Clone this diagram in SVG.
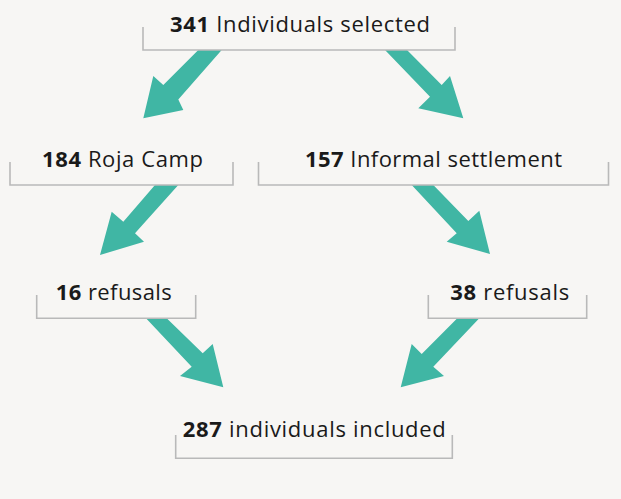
<svg xmlns="http://www.w3.org/2000/svg" width="621" height="499" viewBox="0 0 621 499">
<style>
.bg{fill:#f7f6f4}
.br{fill:none;stroke:#b9b9b9;stroke-width:1.6}
.lbl{font-family:"Open Sans","Liberation Sans",sans-serif;font-size:22px;fill:#1a1a1a;text-anchor:middle}
.b{font-weight:bold}
.ar{fill:#40b6a4}
</style>
<rect class="bg" x="0" y="0" width="621" height="499"/>
<g id="connectors">
<polygon class="ar" points="198.3,50 163.3,85 153.3,76 143.3,118.3 183.3,110 178.3,99.5 221.7,50"/>
<polygon class="ar" points="385,50 430,96.7 418.3,108.3 463.3,118.3 450,76 441.7,85 407,50"/>
<polygon class="ar" points="155,185 123.3,221.7 111.7,211.7 100,255 144,241.7 135,233.3 178.3,185"/>
<polygon class="ar" points="411.7,185 456.7,233.3 446.7,241.7 490,254 479.3,210.7 468.3,221 433.3,185"/>
<polygon class="ar" points="146,318.3 191.7,366.7 180,376 223.3,387.3 212.7,344 202.7,353.3 166.7,318.3"/>
<polygon class="ar" points="457.3,318.3 421.7,354 411.7,344 400.7,387.3 444,376 433.3,366.7 479.3,318.3"/>
</g>
<g id="n-selected">
<path class="br" d="M143,27 V50 H455 V27"/>
<text class="lbl" x="300" y="32" textLength="260"><tspan class="b">341</tspan> Individuals selected</text>
</g>
<g id="n-roja">
<path class="br" d="M10,162 V185 H233 V162"/>
<text class="lbl" x="122.5" y="167" textLength="161"><tspan class="b">184</tspan> Roja Camp</text>
</g>
<g id="n-informal">
<path class="br" d="M258.5,162 V185 H608.5 V162"/>
<text class="lbl" x="433.5" y="167" textLength="257"><tspan class="b">157</tspan> Informal settlement</text>
</g>
<g id="n-refusals-16">
<path class="br" d="M36.7,295 V318.3 H195.7 V295"/>
<text class="lbl" x="113.8" y="300" textLength="116"><tspan class="b">16</tspan> refusals</text>
</g>
<g id="n-refusals-38">
<path class="br" d="M428.3,295 V318.3 H586.7 V295"/>
<text class="lbl" x="509.7" y="300" textLength="119"><tspan class="b">38</tspan> refusals</text>
</g>
<g id="n-included">
<path class="br" d="M175.7,435 V458.3 H452.3 V435"/>
<text class="lbl" x="314.3" y="437" textLength="263"><tspan class="b">287</tspan> individuals included</text>
</g>
</svg>
